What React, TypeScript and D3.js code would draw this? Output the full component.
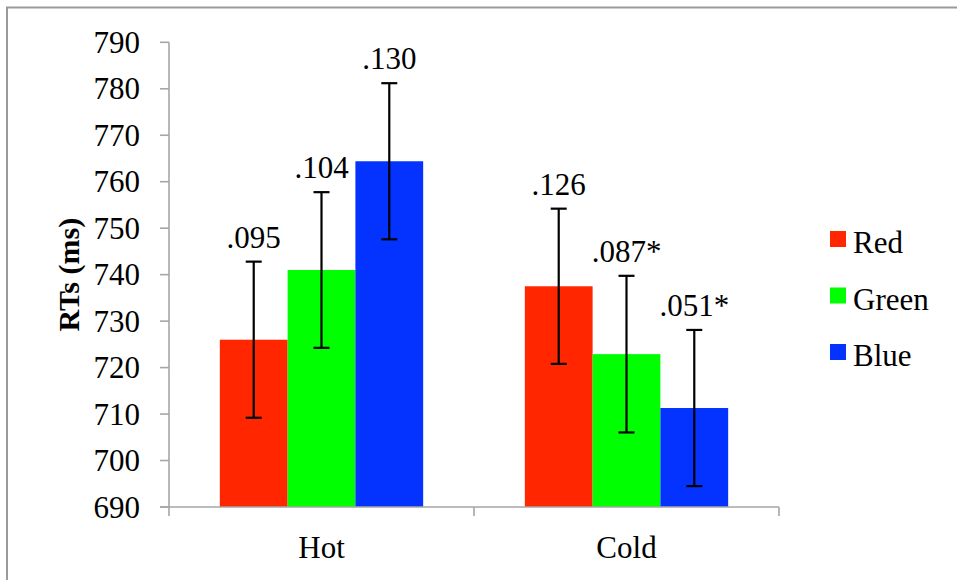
import React from 'react';
import * as d3 from 'd3';

// chart data
const categories = ['Hot', 'Cold'];
const seriesNames = ['Red', 'Green', 'Blue'];
const seriesColors = ['#FF2600', '#00FF00', '#0433FF'];
const redValues = [726.0, 737.5];
const greenValues = [741.0, 722.9];
const blueValues = [764.4, 711.3];
const redErrors = [16.8, 16.7];
const greenErrors = [16.75, 16.85];
const blueErrors = [16.8, 16.8];
const redLabels = ['.095', '.126'];
const greenLabels = ['.104', '.087*'];
const blueLabels = ['.130', '.051*'];
const yTicks = [690, 700, 710, 720, 730, 740, 750, 760, 770, 780, 790];

const AXIS_GREY = '#A6A6A6';
const SERIF = '"Liberation Serif", Tinos, FreeSerif, "Times New Roman"';

const width = 957;
const height = 580;
const plot = { left: 169, right: 779, top: 42.3, bottom: 507 };

const App = () => {
  const values = [redValues, greenValues, blueValues];
  const errors = [redErrors, greenErrors, blueErrors];
  const labels = [redLabels, greenLabels, blueLabels];

  const x = d3.scaleBand<string>().domain(categories).range([plot.left, plot.right]);
  // Excel-like gap width of 150%
  const xs = d3.scaleBand<string>()
    .domain(seriesNames)
    .range([0, x.bandwidth()])
    .paddingInner(0)
    .paddingOuter(0.75);
  const y = d3.scaleLinear().domain([690, 790]).range([plot.bottom, plot.top]);
  const base = y(690);
  const cap = 8;
  const tick = 9;

  const bounds = [plot.left, ...categories.map((c) => (x(c) as number) + x.bandwidth())];

  return (
    <div style={{ position: 'absolute', left: 0, top: 0, width, height, fontFamily: SERIF }}>
      <svg width={width} height={height} style={{ display: 'block', background: 'white' }}>
        {/* outer frame; right and bottom edges fall outside the picture */}
        <rect x={7} y={7.5} width={width + 20} height={height + 20} fill="white" stroke="#9A9A9A" strokeWidth={2} />

        {/* bars */}
        {seriesNames.map((name, si) =>
          categories.map((c, i) => (
            <rect
              key={`bar-${name}-${c}`}
              x={(x(c) as number) + (xs(name) as number)}
              y={y(values[si][i])}
              width={xs.bandwidth()}
              height={base - y(values[si][i])}
              fill={seriesColors[si]}
            />
          ))
        )}

        {/* error bars and labels */}
        {seriesNames.map((name, si) =>
          categories.map((c, i) => {
            const cx = (x(c) as number) + (xs(name) as number) + xs.bandwidth() / 2;
            const hi = y(values[si][i] + errors[si][i]);
            const lo = y(values[si][i] - errors[si][i]);
            return (
              <g key={`err-${name}-${c}`}>
                <g stroke="black" strokeWidth={2.2}>
                  <line x1={cx} x2={cx} y1={hi} y2={lo} />
                  <line x1={cx - cap} x2={cx + cap} y1={hi} y2={hi} />
                  <line x1={cx - cap} x2={cx + cap} y1={lo} y2={lo} />
                </g>
                <text x={cx} y={hi - 14} textAnchor="middle" fill="black" fontFamily={SERIF} fontSize={31}>
                  {labels[si][i]}
                </text>
              </g>
            );
          })
        )}

        {/* y axis */}
        <line x1={plot.left} x2={plot.left} y1={y(790)} y2={base} stroke={AXIS_GREY} strokeWidth={1.6} />
        {yTicks.map((t) => (
          <g key={`yt-${t}`}>
            <line x1={plot.left - tick} x2={plot.left} y1={y(t)} y2={y(t)} stroke={AXIS_GREY} strokeWidth={1.6} />
            <text x={plot.left - tick - 20} y={y(t)} dy="0.34em" textAnchor="end" fill="black" fontFamily={SERIF} fontSize={31}>
              {String(t)}
            </text>
          </g>
        ))}

        {/* x axis */}
        <line x1={plot.left - tick} x2={plot.right} y1={base} y2={base} stroke={AXIS_GREY} strokeWidth={1.6} />
        {bounds.map((b) => (
          <line key={`xb-${b}`} x1={b} x2={b} y1={base} y2={base + tick} stroke={AXIS_GREY} strokeWidth={1.6} />
        ))}
        {categories.map((c) => (
          <text key={`xl-${c}`} x={(x(c) as number) + x.bandwidth() / 2} y={base + 51} textAnchor="middle" fill="black" fontFamily={SERIF} fontSize={31}>
            {c}
          </text>
        ))}

        {/* y axis title */}
        <text
          transform={`translate(79,${(plot.top + plot.bottom) / 2}) rotate(-90)`}
          textAnchor="middle"
          fill="black"
          fontFamily={SERIF}
          fontSize={30}
          fontWeight="bold"
        >
          RTs (ms)
        </text>

        {/* legend */}
        <g transform="translate(830,231)">
          {seriesNames.map((name, si) => (
            <g key={`lg-${name}`} transform={`translate(0,${si * 56.5})`}>
              <rect width={16} height={16} fill={seriesColors[si]} />
              <text x={23} y={22} fill="black" fontFamily={SERIF} fontSize={31}>
                {name}
              </text>
            </g>
          ))}
        </g>
      </svg>
    </div>
  );
};

export default App;
